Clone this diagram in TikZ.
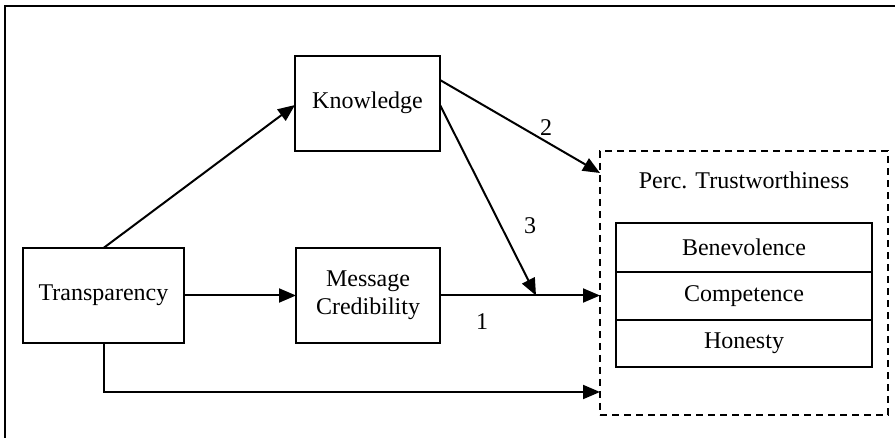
\documentclass[tikz,border=0pt]{standalone}
\usepackage{fontspec}
\setmainfont{Liberation Serif}
\usetikzlibrary{calc,arrows.meta}
\begin{document}
\begin{tikzpicture}[x=1pt,y=-1pt,
  box/.style={draw,line width=2pt,rectangle,inner sep=0pt,outer sep=0pt,align=center,font=\fontsize{24}{27}\selectfont},
  lbl/.style={inner sep=0pt,font=\fontsize{24}{27}\selectfont},
  arr/.style={line width=2pt,-{Triangle[length=17pt,width=14pt]}},
  ln/.style={line width=2pt}]
\useasboundingbox (0,0) rectangle (895,438);
% outer frame (top and left only visible)
\draw[ln] (5,438) -- (5,6) -- (895,6);
% nodes
\node[box,minimum width=145pt,minimum height=95pt] (k) at (367.5,103.5) {\raisebox{6pt}{Knowledge}};
\node[box,minimum width=161pt,minimum height=95pt] (t) at (103.5,295.5) {\raisebox{6pt}{Transparency}};
\node[box,minimum width=144pt,minimum height=95pt] (m) at (368,295.5) {\raisebox{9pt}{\begin{tabular}{@{}c@{}}Message\\[1pt]Credibility\end{tabular}}};
\node[draw,line width=2pt,dash pattern=on 7pt off 5pt,minimum width=288pt,minimum height=264pt,inner sep=0pt,outer sep=0pt] (tw) at (744,283) {};
\node[lbl] (twl) at (744,180) {Perc. Trustworthiness};
\node[box,minimum width=256pt,minimum height=49pt] (b) at (744,247.5) {Benevolence};
\node[box,minimum width=256pt,minimum height=48pt,anchor=north] (c) at (b.south) {Competence};
\node[box,minimum width=256pt,minimum height=47pt,anchor=north] (h) at (c.south) {Honesty};
% connectors
\draw[arr] (t.north) -- ($(k.north west)+(0,49)$);
\draw[arr] (t.east) -- (m.west);
\draw[arr] ($(k.north east)+(0,24)$) -- ($(tw.north west)+(0,22)$);
\draw[arr] (m.east) -- (m.east -| tw.west);
\coordinate (mid) at ($(m.east)!0.6!(m.east -| tw.west)$);
\draw[arr] ($(k.north east)+(0,49)$) -- (mid);
\coordinate (bot) at ($(tw.south west)+(0,-23)$);
\draw[arr] (t.south) |- (bot);
% labels
\node[lbl] (l2) at (546,128) {2};
\node[lbl] (l3) at (530,226) {3};
\node[lbl] (l1) at (482,322) {1};
\end{tikzpicture}
\end{document}
